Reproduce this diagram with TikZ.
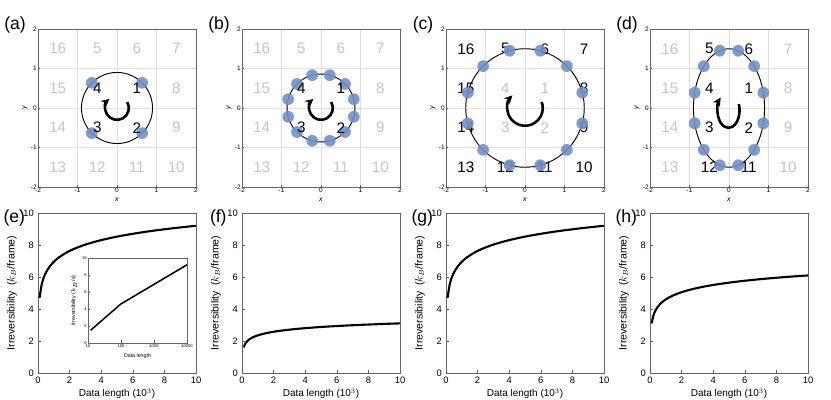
\documentclass[tikz,border=0pt]{standalone}
\usepackage{fontspec}
\setmainfont{Liberation Sans}
\usetikzlibrary{arrows.meta}

\definecolor{dotblue}{RGB}{112,144,200}
\tikzset{
  gridline/.style={gray!25,line width=0.3pt},
  framebox/.style={gray!80!black,line width=0.5pt},
  ticklab/.style={font=\fontsize{5.5}{5.5}\selectfont,inner sep=1pt},
  gnum/.style={gray!45,font=\fontsize{13}{13}\selectfont},
  bnum/.style={black,font=\fontsize{13}{13}\selectfont},
  pt/.style={circle,fill=dotblue,fill opacity=0.9,inner sep=0pt,minimum size=10pt},
  paneltag/.style={font=\fontsize{15}{15}\selectfont},
  spin/.style={line width=2.2pt,-{Stealth[length=7pt,width=7pt]}},
  curve/.style={line width=1.8pt},
  axlab/.style={font=\fontsize{8}{8}\selectfont}
}

% grid of 16 cells, named coordinates <name>1 ... <name>16
\newcommand{\gridpanel}[3]{%
  \begin{scope}[shift={(#2,292)},scale=39.5]
    \foreach \v in {-1,0,1}{
      \draw[gridline] (\v,-2) -- (\v,2);
      \draw[gridline] (-2,\v) -- (2,\v);
    }
    \draw[framebox] (-2,-2) rectangle (2,2);
    \foreach \v in {-2,-1,0,1,2}{
      \draw[framebox] (\v,-2) -- (\v,-1.95);
      \draw[framebox] (-2,\v) -- (-1.95,\v);
      \node[ticklab,below] at (\v,-2) {\v};
      \node[ticklab,left] at (-2,\v) {\v};
    }
    \node[ticklab,font=\fontsize{6}{6}\selectfont\itshape] (#1x) at (0,-2.33) {x};
    \node[ticklab,font=\fontsize{6}{6}\selectfont\itshape,rotate=90] (#1y) at (-2.33,0) {y};
    \node[paneltag] (#1tag) at (-2.58,2.1) {(#3)};
    \foreach \n/\px/\py in {1/0.5/0.5,2/0.5/-0.5,3/-0.5/-0.5,4/-0.5/0.5,
        5/-0.5/1.5,6/0.5/1.5,7/1.5/1.5,8/1.5/0.5,9/1.5/-0.5,10/1.5/-1.5,
        11/0.5/-1.5,12/-0.5/-1.5,13/-1.5/-1.5,14/-1.5/-0.5,15/-1.5/0.5,16/-1.5/1.5}
      \coordinate (#1\n) at (\px,\py);
  \end{scope}}

% curve panel: center x, tag, offset, slope
\newcommand{\curvepanel}[5]{%
  \begin{scope}[shift={(#2,27)},xscale=15.8,yscale=16]
    \draw[framebox] (0,0) rectangle (10,10);
    \foreach \v in {0,2,...,10}{
      \draw[framebox] (\v,0) -- (\v,0.2);
      \draw[framebox] (0,\v) -- (0.2,\v);
      \node[axlab,below] at (\v,0) {\v};
      \node[axlab,left] at (0,\v) {\v};
    }
    \node[axlab,font=\fontsize{8.5}{8.5}\selectfont] (#1xl) at (5,-1.3) {Data length (10$^3$)};
    \node[axlab,font=\fontsize{9}{9}\selectfont,rotate=90] (#1yl) at (-1.65,5) {Irreversibility\enspace($k_B$/frame)};
    \node[paneltag] (#1tag) at (-1.5,9.7) {(#3)};
    \draw[curve] plot[domain=0.1:10,samples=80,smooth] (\x,{#4+#5*ln(\x/0.1)});
  \end{scope}}

\begin{document}
\begin{tikzpicture}[x=0.03cm,y=0.03cm]
  \useasboundingbox (0,0) rectangle (831,400);

  % panel (a)
  \gridpanel{a}{117}{a}
  \begin{scope}[shift={(117,292)},scale=39.5]
    \draw[line width=0.8pt] (0,0) circle (0.9);
    \foreach \t in {45,135,225,315}
      \node[pt] (ap\t) at (\t:0.9) {};
    \draw[spin] (30:0.3) arc (30:-230:0.3);
  \end{scope}
  \foreach \n in {5,...,16} \node[gnum] at (a\n) {\n};
  \foreach \n in {1,...,4} \node[bnum] at (a\n) {\n};

  % panel (b)
  \gridpanel{b}{321}{b}
  \begin{scope}[shift={(321,292)},scale=39.5]
    \draw[line width=0.8pt] (0,0) circle (0.86);
    \foreach \t in {15,45,...,345}
      \node[pt] (bp\t) at (\t:0.86) {};
    \draw[spin] (30:0.3) arc (30:-230:0.3);
  \end{scope}
  \foreach \n in {5,...,16} \node[gnum] at (b\n) {\n};
  \foreach \n in {1,...,4} \node[bnum] at (b\n) {\n};

  % panel (c)
  \gridpanel{c}{525}{c}
  \begin{scope}[shift={(525,292)},scale=39.5]
    \foreach \n in {1,...,4} \node[gnum] at (c\n) {\n};
    \foreach \n in {5,...,16} \node[bnum] at (c\n) {\n};
    \draw[line width=0.8pt] (0,0) circle (1.5);
    \foreach \t in {15,45,...,345}
      \node[pt] (cp\t) at (\t:1.5) {};
    \draw[spin] (20:0.45) arc (20:-225:0.45);
  \end{scope}

  % panel (d)
  \gridpanel{d}{729}{d}
  \begin{scope}[shift={(729,292)},scale=39.5]
    \foreach \n in {7,8,9,10,13,14,15,16} \node[gnum] at (d\n) {\n};
    \foreach \n in {1,...,6,11,12} \node[bnum] at (d\n) {\n};
    \draw[line width=0.8pt] (0,0) ellipse (0.9 and 1.5);
    \foreach \t in {15,45,...,345}
      \node[pt] (dp\t) at ({0.9*cos(\t)},{1.5*sin(\t)}) {};
    \draw[spin] (0.25,0.1) arc (20:-225:0.28 and 0.45);
  \end{scope}

  % bottom row
  \curvepanel{e}{38}{e}{4.7}{0.977}
  \curvepanel{f}{242}{f}{1.6}{0.326}
  \curvepanel{g}{446}{g}{4.7}{0.977}
  \curvepanel{h}{650}{h}{3.1}{0.651}

  % inset of (e)
  \begin{scope}[shift={(88,57)},xscale=33,yscale=8.5]
    \draw[framebox,line width=0.4pt] (0,0) rectangle (3,10);
    \foreach \v/\l in {0/10,1/100,2/1000,3/10000}{
      \draw[framebox,line width=0.3pt] (\v,0) -- (\v,0.3);
      \node[ticklab,font=\fontsize{3.5}{3.5}\selectfont,below] at (\v,0) {\l};
    }
    \foreach \v in {0,2,...,10}{
      \draw[framebox,line width=0.3pt] (0,\v) -- (0.06,\v);
      \node[ticklab,font=\fontsize{3.5}{3.5}\selectfont,left] at (0,\v) {\v};
    }
    \node[font=\fontsize{4.5}{4.5}\selectfont] (ixl) at (1.5,-1.6) {Data length};
    \node[font=\fontsize{4.5}{4.5}\selectfont,rotate=90] (iyl) at (-0.42,5) {Irreversibility ($k_B$/s)};
    \draw[line width=1.3pt] (0.08,1.5) -- (1,4.6) -- (3,9.2);
  \end{scope}
\end{tikzpicture}
\end{document}
